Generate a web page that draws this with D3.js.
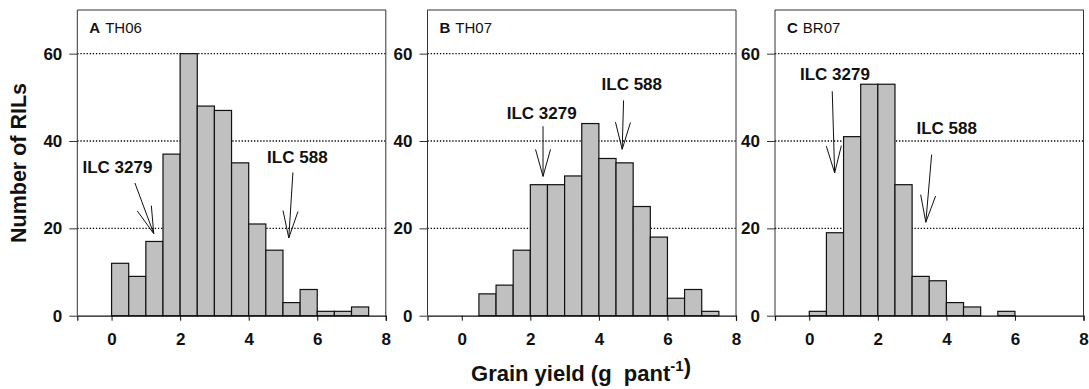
<!DOCTYPE html>
<html>
<head>
<meta charset="utf-8">
<script src="https://cdn.jsdelivr.net/npm/d3@7"></script>
<style>
  html, body { margin: 0; padding: 0; background: #fff; }
  svg { display: block; }
  text { font-family: "Liberation Sans", Arial, sans-serif; }
</style>
</head>
<body>
<svg id="chart" width="1089" height="389"></svg>
<script>
// ---- data ----
const panelLetters = ["A", "B", "C"];
const panelSites = ["TH06", "TH07", "BR07"];
const binStart = 0;
const binWidth = 0.5;
const countsA = [12, 9, 17, 37, 60, 48, 47, 35, 21, 15, 3, 6, 1, 1, 2];
const countsB = [0, 5, 7, 15, 30, 30, 32, 44, 36, 35, 25, 18, 4, 6, 1];
const countsC = [1, 19, 41, 53, 53, 30, 9, 8, 3, 2, 0, 1];
const xTicks = [0, 2, 4, 6, 8];
const yTicks = [0, 20, 40, 60];
const gridValues = [20, 40, 60];
const xDomain = [-1, 8];
const yDomain = [0, 70];
// annotation: label anchor (lx, ly) and arrow from (x1,y1) to (x2,y2), data units
const annoA = [
  { label: "ILC 3279", lx: 0.17, ly: 32.6, x1: 0.68, y1: 30.4, x2: 1.23, y2: 18.8 },
  { label: "ILC 588",  lx: 5.42, ly: 34.9, x1: 5.29, y1: 32.8, x2: 5.17, y2: 17.8 }
];
const annoB = [
  { label: "ILC 3279", lx: 2.33, ly: 45.0, x1: 2.37, y1: 43.4, x2: 2.37, y2: 31.9 },
  { label: "ILC 588",  lx: 4.96, ly: 51.6, x1: 4.72, y1: 49.3, x2: 4.68, y2: 38.1 }
];
const annoC = [
  { label: "ILC 3279", lx: 0.75, ly: 53.9, x1: 0.67, y1: 51.4, x2: 0.74, y2: 32.7 },
  { label: "ILC 588",  lx: 4.01, ly: 41.6, x1: 3.57, y1: 36.9, x2: 3.40, y2: 21.4 }
];
const yLabel = "Number of RILs";
const xLabelMain = "Grain yield (g\u00a0\u00a0pant";
const xLabelSup = "-1";

// ---- layout ----
const svg = d3.select("#chart");
const panelLefts = [77.3, 427.5, 775];
const panelWidth = 308.5;
const plotTop = 10, plotBottom = 315.7;
const counts = [countsA, countsB, countsC];
const annos = [annoA, annoB, annoC];
const font = '"Liberation Sans", Arial, sans-serif';

panelLetters.forEach((letter, i) => {
  const left = panelLefts[i];
  const x = d3.scaleLinear().domain(xDomain).range([left, left + panelWidth]);
  const y = d3.scaleLinear().domain(yDomain).range([plotBottom, plotTop]);
  const g = svg.append("g");

  // gridlines (dotted)
  g.selectAll("line.grid").data(gridValues).enter().append("line")
    .attr("x1", x(xDomain[0])).attr("x2", x(xDomain[1]))
    .attr("y1", d => y(d)).attr("y2", d => y(d))
    .attr("stroke", "#000").attr("stroke-width", 1.4)
    .attr("stroke-dasharray", "1.3,1.8");

  // bars
  const bins = counts[i].map((c, k) => ({ x0: binStart + k * binWidth, x1: binStart + (k + 1) * binWidth, c }))
    .filter(d => d.c > 0);
  g.selectAll("rect.bar").data(bins).enter().append("rect")
    .attr("x", d => x(d.x0)).attr("width", d => x(d.x1) - x(d.x0))
    .attr("y", d => y(d.c)).attr("height", d => y(0) - y(d.c))
    .attr("fill", "#c0c0c0").attr("stroke", "#111").attr("stroke-width", 1.2);

  // frame (left, top, right)
  g.append("path")
    .attr("d", `M${x(xDomain[0])},${y(0)}V${y(yDomain[1])}H${x(xDomain[1])}V${y(0)}`)
    .attr("fill", "none").attr("stroke", "#333").attr("stroke-width", 1);

  // x axis
  const xAxis = d3.axisBottom(x).tickValues(xTicks).tickSize(5).tickPadding(12).tickFormat(d3.format("d"));
  const xa = g.append("g").attr("transform", `translate(0,${y(0)})`).call(xAxis);
  xa.select(".domain").attr("stroke", "#111").attr("stroke-width", 1.2);
  xa.selectAll(".tick line").attr("stroke", "#111");
  xa.selectAll(".tick text").attr("font-family", font).attr("font-size", 17)
    .attr("font-weight", "bold").attr("fill", "#111");

  // y axis
  const yAxis = d3.axisLeft(y).tickValues(yTicks).tickSize(8).tickPadding(7).tickFormat(d3.format("d"));
  const ya = g.append("g").attr("transform", `translate(${x(xDomain[0])},0)`).call(yAxis);
  ya.select(".domain").remove();
  ya.selectAll(".tick line").attr("stroke", "#333");
  ya.selectAll(".tick text").attr("font-family", font).attr("font-size", 17)
    .attr("font-weight", "bold").attr("fill", "#111");

  // panel title
  const t = g.append("text").attr("x", left + 12).attr("y", 33)
    .attr("font-size", 15).attr("fill", "#111");
  t.append("tspan").attr("font-weight", "bold").text(letter);
  t.append("tspan").attr("dx", 5).text(panelSites[i]);

  // annotations
  annos[i].forEach(a => {
    g.append("text").attr("x", x(a.lx)).attr("y", y(a.ly))
      .attr("text-anchor", "middle").attr("font-size", 17).attr("font-weight", "bold")
      .attr("fill", "#111").text(a.label);
    const px1 = x(a.x1), py1 = y(a.y1), px2 = x(a.x2), py2 = y(a.y2);
    g.append("line").attr("x1", px1).attr("y1", py1).attr("x2", px2).attr("y2", py2)
      .attr("stroke", "#111").attr("stroke-width", 1);
    const dx = px2 - px1, dy = py2 - py1, len = Math.hypot(dx, dy);
    const ux = dx / len, uy = dy / len;
    const back = 27, half = 7.5;
    const bx = px2 - ux * back, by = py2 - uy * back;
    g.append("path")
      .attr("d", `M${bx - uy * half},${by + ux * half}L${px2},${py2}L${bx + uy * half},${by - ux * half}`)
      .attr("fill", "none").attr("stroke", "#111").attr("stroke-width", 1);
  });
});

// y axis label
svg.append("text")
  .attr("transform", "translate(26,163) rotate(-90)")
  .attr("text-anchor", "middle").attr("font-size", 21.5).attr("font-weight", "bold")
  .attr("fill", "#111").text(yLabel);

// x axis label
const xl = svg.append("text").attr("x", 581).attr("y", 381)
  .attr("text-anchor", "middle").attr("font-size", 22).attr("font-weight", "bold")
  .attr("fill", "#111");
xl.append("tspan").text(xLabelMain);
xl.append("tspan").attr("dy", -10).attr("font-size", 15).text(xLabelSup);
xl.append("tspan").attr("dy", 3).text(")");
</script>
</body>
</html>
